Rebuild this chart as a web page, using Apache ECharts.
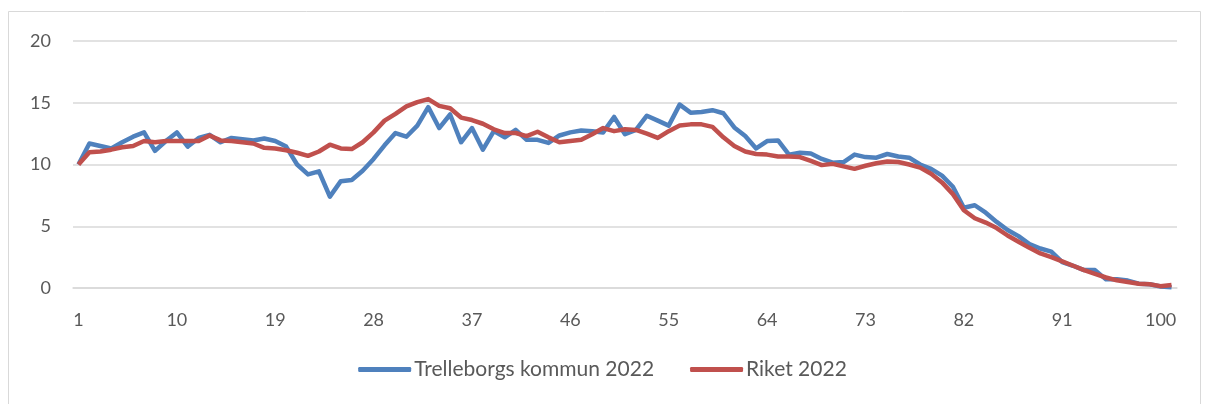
<!DOCTYPE html>
<html>
<head>
<meta charset="utf-8">
<title>Trelleborgs kommun 2022</title>
<script src="https://cdn.jsdelivr.net/npm/echarts@6/dist/echarts.min.js"></script>
<style>
  html, body { margin: 0; padding: 0; background: #fff; }
  #chart { width: 1205px; height: 404px; }
</style>
</head>
<body>
<div id="chart"></div>
<script>
// ålder 1..101
const categories = []
for (let i = 1; i <= 101; i++) categories.push(String(i))

const trelleborg = [
  10.0, 11.7, 11.5, 11.3, 11.8, 12.25, 12.6, 11.1, 11.9, 12.6,
  11.45, 12.15, 12.4, 11.8, 12.15, 12.05, 11.95, 12.1, 11.9, 11.45,
  10.0, 9.2, 9.45, 7.4, 8.65, 8.75, 9.5, 10.45, 11.55, 12.55,
  12.25, 13.15, 14.65, 12.95, 14.05, 11.8, 12.95, 11.2, 12.7, 12.2,
  12.8, 12.0, 12.0, 11.75, 12.35, 12.6, 12.75, 12.7, 12.6, 13.85,
  12.45, 12.8, 13.95, 13.55, 13.15, 14.85, 14.2, 14.25, 14.4, 14.15,
  13.0, 12.3, 11.3, 11.9, 11.95, 10.8, 10.95, 10.9, 10.45, 10.15,
  10.2, 10.8, 10.6, 10.55, 10.85, 10.65, 10.55, 10.0, 9.65, 9.1,
  8.2, 6.5, 6.7, 6.1, 5.35, 4.7, 4.2, 3.55, 3.2, 2.95,
  2.1, 1.8, 1.45, 1.45, 0.7, 0.7, 0.6, 0.35, 0.3, 0.12,
  0.07
]

const riket = [
  10.0, 11.0, 11.05, 11.2, 11.4, 11.5, 11.9, 11.8, 11.9, 11.9,
  11.9, 11.9, 12.35, 11.95, 11.9, 11.8, 11.7, 11.35, 11.3, 11.15,
  10.95, 10.7, 11.05, 11.6, 11.3, 11.25, 11.8, 12.6, 13.55, 14.1,
  14.7, 15.05, 15.3, 14.75, 14.55, 13.8, 13.6, 13.3, 12.85, 12.55,
  12.55, 12.3, 12.65, 12.2, 11.8, 11.9, 12.0, 12.45, 12.95, 12.7,
  12.85, 12.8, 12.5, 12.15, 12.7, 13.15, 13.25, 13.25, 13.05, 12.2,
  11.5, 11.05, 10.85, 10.8, 10.65, 10.65, 10.6, 10.3, 9.95, 10.05,
  9.85, 9.65, 9.9, 10.1, 10.25, 10.2, 10.0, 9.75, 9.25, 8.55,
  7.6, 6.3, 5.65, 5.3, 4.85, 4.25, 3.75, 3.25, 2.8, 2.5,
  2.15, 1.8, 1.45, 1.15, 0.85, 0.62, 0.48, 0.35, 0.3, 0.15,
  0.25
]

const seriesNames = ['Trelleborgs kommun 2022', 'Riket 2022']
const seriesColors = ['#4F81BD', '#C0504D']

const textColor = '#595959'
const fontFamily = 'Lato, "Open Sans", sans-serif'

const chart = echarts.init(document.getElementById('chart'), null, { renderer: 'canvas' })

const option = {
  animation: false,
  backgroundColor: '#fff',
  color: seriesColors,
  textStyle: { fontFamily: fontFamily, color: textColor },
  graphic: [
    {
      type: 'rect',
      shape: { x: 8.5, y: 11.5, width: 1192, height: 420 },
      style: { fill: 'none', stroke: '#D9D9D9', lineWidth: 1 },
      silent: true,
    },
  ],
  grid: { left: 73, right: 28, top: 41, bottom: 116 },
  legend: {
    bottom: 19,
    left: 'center',
    itemWidth: 53,
    itemHeight: 5,
    itemGap: 36,
    icon: 'roundRect',
    textStyle: { fontSize: 21, color: textColor, fontFamily: fontFamily, padding: [0, 0, 0, -2] },
    data: seriesNames,
  },
  xAxis: {
    type: 'category',
    data: categories,
    boundaryGap: true,
    axisLine: { show: true, lineStyle: { color: '#D9D9D9', width: 1.5 } },
    axisTick: { show: false },
    axisLabel: {
      interval: 8,
      margin: 23,
      fontSize: 18,
      color: textColor,
      fontFamily: fontFamily,
    },
  },
  yAxis: {
    type: 'value',
    min: 0,
    max: 20,
    interval: 5,
    axisLine: { show: false },
    axisTick: { show: false },
    splitLine: { lineStyle: { color: '#D9D9D9', width: 1.5 } },
    axisLabel: {
      margin: 22,
      fontSize: 18,
      color: textColor,
      fontFamily: fontFamily,
    },
  },
  series: [
    {
      name: seriesNames[0],
      type: 'line',
      data: trelleborg,
      showSymbol: false,
      symbol: 'none',
      lineStyle: { width: 4.5, color: seriesColors[0], join: 'round' },
      itemStyle: { color: seriesColors[0] },
    },
    {
      name: seriesNames[1],
      type: 'line',
      data: riket,
      showSymbol: false,
      symbol: 'none',
      lineStyle: { width: 4.5, color: seriesColors[1], join: 'round' },
      itemStyle: { color: seriesColors[1] },
    },
  ],
}

chart.setOption(option)
</script>
</body>
</html>
